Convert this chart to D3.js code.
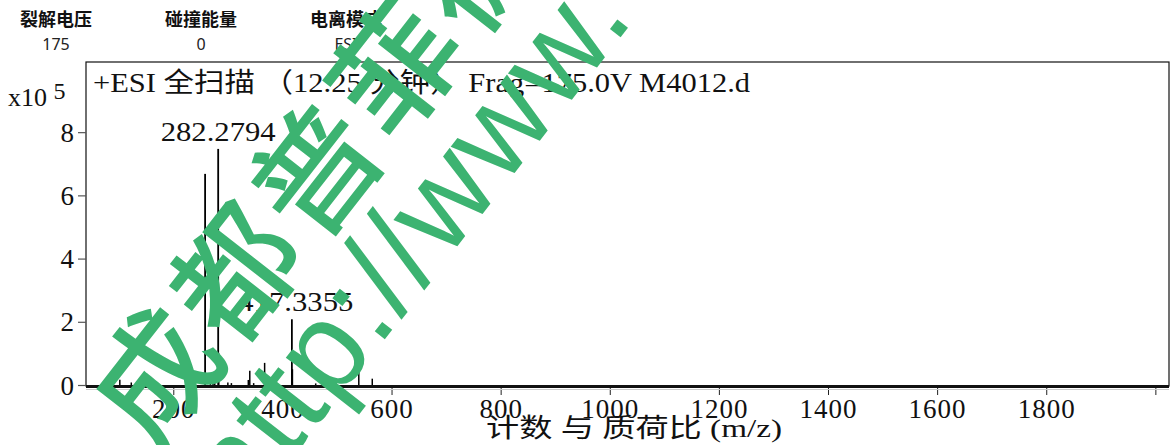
<!DOCTYPE html>
<html><head><meta charset="utf-8">
<script src="https://cdn.jsdelivr.net/npm/d3@7"></script>
<style>body{margin:0;background:#fff}svg{display:block}</style>
</head><body>
<script>
// ---- data ----
const headerLabels = ["裂解电压", "碰撞能量", "电离模式"];
const headerValues = ["175", "0", "ESI"];
const titleText = "+ESI 全扫描 （12.25 分钟） Frag=175.0V M4012.d";
const mzValues = [102, 123, 258.3, 268, 272.8, 276, 282.28, 283.28, 300, 306.5, 337.5, 340.2, 347.3, 367.4, 369.3, 417.34, 418.34, 461, 477, 540, 564.7];
const intensities = [0.17, 0.08, 6.68, 0.1, 0.12, 0.08, 7.47, 1.0, 0.08, 0.06, 0.16, 0.45, 0.06, 0.7, 0.2, 2.08, 0.5, 0.05, 0.05, 0.42, 0.2];
const peakLabels = [{mz: 282.28, value: 7.47, text: "282.2794"}, {mz: 417.34, value: 2.08, text: "417.3355"}];
const xTicks = [200, 400, 600, 800, 1000, 1200, 1400, 1600, 1800, 2000];
const xTickLabels = ["200", "400", "600", "800", "1000", "1200", "1400", "1600", "1800", ""];
const yTicks = [0, 2, 4, 6, 8];
const yExponent = "5";
const xAxisTitle = "计数 与 质荷比 (m/z)";
const watermark1 = "成都普菲德";
const watermark2 = "http://www.";

const W = 1171, H = 445;
const L = 86, R = 1169, T = 62, B = 385;
const serif = "'Liberation Serif','DejaVu Serif','Noto Sans CJK SC',serif";

const svg = d3.select("body").append("svg").attr("width", W).attr("height", H);
svg.append("rect").attr("width", W).attr("height", H).attr("fill", "#fff");

const x = d3.scaleLinear().domain([40, 2025]).range([L, R]);
const y = d3.scaleLinear().domain([0, 10.22]).range([B, T]);

// header
const hx = [56, 201, 346];
headerLabels.forEach((t, i) => {
  svg.append("text").attr("x", hx[i]).attr("y", 26).attr("text-anchor", "middle")
    .attr("font-family", "'Noto Sans CJK SC',sans-serif").attr("font-weight", "bold")
    .attr("font-size", 18).attr("fill", "#111").text(t);
  svg.append("text").attr("x", hx[i]).attr("y", 50).attr("text-anchor", "middle")
    .attr("font-family", "'Noto Sans','Noto Sans CJK SC',sans-serif")
    .attr("font-size", 16).attr("fill", "#222").text(headerValues[i]);
});

// frame
svg.append("rect").attr("x", L).attr("y", T).attr("width", R - L).attr("height", B + 1 - T)
  .attr("fill", "none").attr("stroke", "#111").attr("stroke-width", 1.2);

// title
svg.append("text").attr("x", 93).attr("y", 92).attr("font-family", serif)
  .attr("font-size", 27).attr("fill", "#111")
  .attr("textLength", 657).attr("lengthAdjust", "spacingAndGlyphs").text(titleText);

// y axis
const yAxis = d3.axisLeft(y).tickValues(yTicks).tickSize(8).tickPadding(4).tickFormat(d3.format("d"));
const gy = svg.append("g").attr("transform", `translate(${L},0)`).call(yAxis);
gy.select(".domain").remove();
gy.selectAll("line").attr("stroke", "#555").attr("stroke-width", 1.2);
gy.selectAll("text").attr("font-family", serif).attr("font-size", 27).attr("fill", "#111").attr("dy", "0.34em");

// x axis
const xAxis = d3.axisBottom(x).tickValues(xTicks).tickSize(8).tickPadding(4)
  .tickFormat((d, i) => xTickLabels[i]);
const gx = svg.append("g").attr("transform", `translate(0,${B + 2})`).call(xAxis);
gx.select(".domain").remove();
gx.selectAll("line").attr("stroke", "#222").attr("stroke-width", 1);
gx.selectAll("text").attr("font-family", serif).attr("font-size", 27).attr("fill", "#111")
  .attr("letter-spacing", 1).attr("dy", "0.72em");

// axis baseline
svg.append("line").attr("x1", L).attr("x2", R).attr("y1", B + 1.5).attr("y2", B + 1.5)
  .attr("stroke", "#111").attr("stroke-width", 3);
svg.append("line").attr("x1", L).attr("x2", R).attr("y1", B + 4.5).attr("y2", B + 4.5)
  .attr("stroke", "#ccc").attr("stroke-width", 1);

// exponent label
const ex = svg.append("text").attr("x", 8).attr("y", 106).attr("font-family", serif)
  .attr("font-size", 26).attr("fill", "#111");
ex.append("tspan").text("x10 ");
ex.append("tspan").attr("dy", -7).attr("font-size", 24).text(yExponent);

// peaks
svg.append("g").selectAll("line").data(mzValues).join("line")
  .attr("x1", d => x(d)).attr("x2", d => x(d))
  .attr("y1", y(0)).attr("y2", (d, i) => y(intensities[i]))
  .attr("stroke", "#000").attr("stroke-width", (d, i) => intensities[i] > 1 ? 1.8 : 1.5);

// peak labels
svg.append("g").selectAll("text").data(peakLabels).join("text")
  .attr("x", d => x(d.mz) + (d.mz > 400 ? 4 : 0)).attr("y", d => y(d.value) - 8)
  .attr("text-anchor", "middle").attr("font-family", serif).attr("font-size", 27)
  .attr("fill", "#111").attr("textLength", 115).attr("lengthAdjust", "spacingAndGlyphs")
  .text(d => d.text);

// x axis title
svg.append("text").attr("x", 486).attr("y", 437).attr("font-family", serif)
  .attr("font-size", 26).attr("fill", "#111")
  .attr("textLength", 296).attr("lengthAdjust", "spacingAndGlyphs").text(xAxisTitle);

// watermark
const wm = svg.append("g").attr("transform", "rotate(-52)").attr("fill", "#3cb371");
wm.append("text").attr("x", -262).attr("y", 400)
  .attr("font-family", "'Noto Sans CJK SC',sans-serif").attr("font-weight", 500)
  .attr("font-size", 124).attr("letter-spacing", 6).text(watermark1);
wm.append("text").attr("x", -260).attr("y", 512)
  .attr("font-family", "'Liberation Sans',Arial,sans-serif")
  .attr("font-size", 126).attr("letter-spacing", 2).text(watermark2);
</script>
</body></html>
